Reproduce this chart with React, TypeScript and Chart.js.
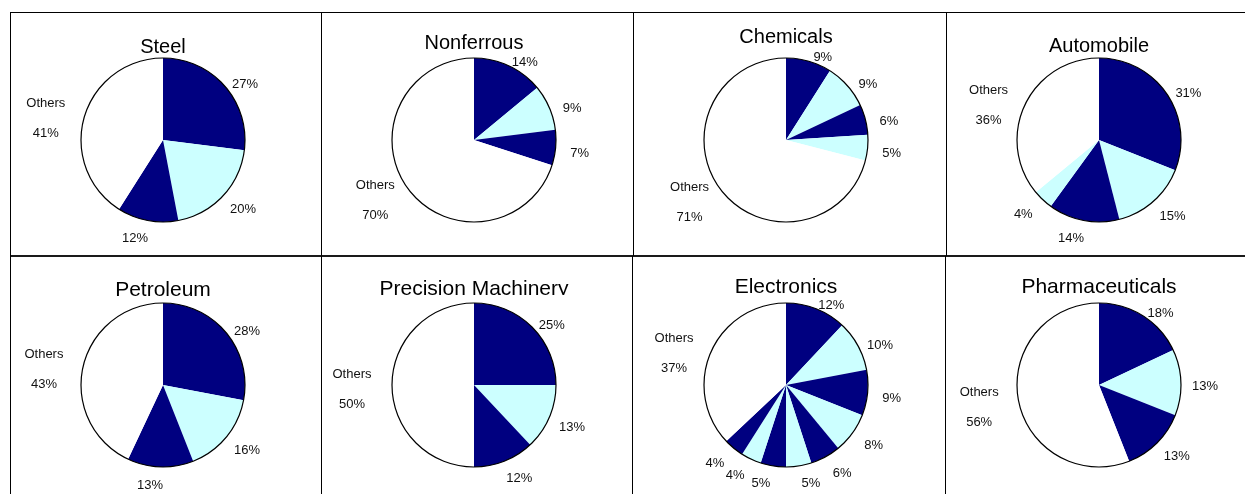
import React, { useEffect, useRef } from "react";
import { Chart, registerables } from "chart.js";

Chart.register(...registerables);

// ---------- data ----------
const SECTORS = [
  "Steel",
  "Nonferrous",
  "Chemicals",
  "Automobile",
  "Petroleum",
  "Precision Machinery",
  "Electronics",
  "Pharmaceuticals",
];
const steelShares = [27, 20, 12, 41];
const nonferrousShares = [14, 9, 7, 70];
const chemicalsShares = [9, 9, 6, 5, 71];
const automobileShares = [31, 15, 14, 4, 36];
const petroleumShares = [28, 16, 13, 43];
const precisionShares = [25, 13, 12, 50];
const electronicsShares = [12, 10, 9, 8, 6, 5, 5, 4, 4, 37];
const pharmaShares = [18, 13, 13, 56];
const SHARES = [
  steelShares,
  nonferrousShares,
  chemicalsShares,
  automobileShares,
  petroleumShares,
  precisionShares,
  electronicsShares,
  pharmaShares,
];
const OTHERS_LABEL = "Others";
const CLIPPED_TITLES = ["Precision Machinery"];

// ---------- layout / style ----------
const PAGE_W = 1245;
const PAGE_H = 494;
const COL_LEFT = [10, 321, 633, 946];
const ROW_TOP = [12, 256];
const PIE_CX = 153;
const PIE_CY = [128, 129];
const PIE_R = 82;
const TITLE_Y = [35, 31, 25, 34, 34, 33, 31, 31];
const NAVY = "#000080";
const CYAN = "#CCFFFF";
const FONT = '"Liberation Sans", Arial, Helvetica, sans-serif';

type PanelProps = {
  title: string;
  shares: number[];
  row: number;
  col: number;
  titleY: number;
};

function PiePanel({ title, shares, row, col, titleY }: PanelProps) {
  const ref = useRef<HTMLCanvasElement | null>(null);
  const left = COL_LEFT[col];
  const top = ROW_TOP[row];
  const W = (col < COL_LEFT.length - 1 ? COL_LEFT[col + 1] : PAGE_W) - left;
  const H = (row < ROW_TOP.length - 1 ? ROW_TOP[row + 1] : PAGE_H) - top;
  const cy = PIE_CY[row];

  useEffect(() => {
    if (!ref.current) return;
    const n = shares.length;
    const labels = shares.map((_, i) => (i === n - 1 ? OTHERS_LABEL : ""));
    const colors = shares.map((_, i) =>
      i === n - 1 ? "#FFFFFF" : i % 2 === 0 ? NAVY : CYAN
    );
    const titleSize = row === 0 ? 20 : 21;
    const clip = CLIPPED_TITLES.includes(title);

    const decor = {
      id: "panelDecor",
      afterDatasetsDraw(chart: any) {
        const ctx = chart.ctx as CanvasRenderingContext2D;
        const meta = chart.getDatasetMeta(0);
        const vals = chart.data.datasets[0].data as number[];
        const labs = chart.data.labels as string[];
        if (!meta.data.length) return;
        const first = meta.data[0].getProps(["x", "y", "outerRadius"], true);
        ctx.save();
        // pie outline
        ctx.beginPath();
        ctx.arc(first.x, first.y, first.outerRadius, 0, Math.PI * 2);
        ctx.lineWidth = 1.2;
        ctx.strokeStyle = "#000";
        ctx.stroke();
        // slice labels
        ctx.font = `13px ${FONT}`;
        ctx.fillStyle = "#111";
        ctx.textAlign = "center";
        ctx.textBaseline = "middle";
        meta.data.forEach((arc: any, i: number) => {
          const p = arc.getProps(
            ["x", "y", "startAngle", "endAngle", "outerRadius"],
            true
          );
          const mid = (p.startAngle + p.endAngle) / 2;
          const ux = Math.cos(mid);
          const uy = Math.sin(mid);
          const r = p.outerRadius;
          const pct = `${vals[i]}%`;
          const dy = uy * (r + (uy > 0 ? 14 : 8)) + 4;
          if (labs[i]) {
            const lx = p.x + ux * (r + 40);
            const ly = p.y + dy;
            ctx.fillText(labs[i], lx, ly - 15);
            ctx.fillText(pct, lx, ly + 15);
          } else {
            const lx = p.x + ux * (r + 14) + Math.sign(ux) * 10;
            const ly = p.y + dy;
            ctx.fillText(pct, lx, ly);
          }
        });
        ctx.restore();
      },
      afterDraw(chart: any) {
        const ctx = chart.ctx as CanvasRenderingContext2D;
        const area = chart.chartArea;
        const tx = (area.left + area.right) / 2;
        ctx.save();
        if (clip) {
          ctx.beginPath();
          ctx.rect(0, 0, chart.width, titleY + 6);
          ctx.clip();
        }
        ctx.font = `${titleSize}px ${FONT}`;
        ctx.fillStyle = "#000";
        ctx.textAlign = "center";
        ctx.textBaseline = "middle";
        ctx.fillText(title, tx, titleY);
        ctx.restore();
      },
    };

    const chart = new Chart(ref.current, {
      type: "pie",
      data: {
        labels,
        datasets: [
          {
            data: shares,
            backgroundColor: colors,
            borderWidth: 0,
            radius: PIE_R,
          } as any,
        ],
      },
      options: {
        animation: false,
        responsive: true,
        maintainAspectRatio: false,
        layout: {
          padding: {
            left: PIE_CX - 100,
            right: W - (PIE_CX + 100),
            top: cy - 100,
            bottom: H - (cy + 100),
          },
        },
        plugins: {
          legend: { display: false },
          tooltip: { enabled: false },
          title: { display: false },
        },
      },
      plugins: [decor],
    });
    return () => chart.destroy();
  }, [title, shares, row, col, W, H, cy, titleY]);

  return (
    <div
      style={{
        position: "absolute",
        left,
        top,
        width: W,
        height: H,
      }}
    >
      <canvas ref={ref} />
    </div>
  );
}

function Line({ x, y, w, h, c = "#000" }: { x: number; y: number; w: number; h: number; c?: string }) {
  return (
    <div
      style={{
        position: "absolute",
        left: x,
        top: y,
        width: w,
        height: h,
        background: c,
        zIndex: 2,
      }}
    />
  );
}

export default function App() {
  return (
    <div
      style={{
        position: "absolute",
        left: 0,
        top: 0,
        width: PAGE_W,
        height: PAGE_H,
        overflow: "hidden",
        background: "#fff",
      }}
    >
      {SECTORS.map((s, i) => (
        <PiePanel
          key={s}
          title={s}
          shares={SHARES[i]}
          row={Math.floor(i / 4)}
          col={i % 4}
          titleY={TITLE_Y[i]}
        />
      ))}
      <Line x={10} y={12} w={PAGE_W - 10} h={1} />
      <Line x={10} y={255} w={PAGE_W - 10} h={2} c="#1a1a1a" />
      <Line x={10} y={12} w={1} h={PAGE_H - 12} />
      <Line x={321} y={12} w={1} h={244} />
      <Line x={633} y={12} w={1} h={244} />
      <Line x={946} y={12} w={1} h={244} />
      <Line x={321} y={256} w={1} h={PAGE_H - 256} />
      <Line x={632} y={256} w={1} h={PAGE_H - 256} />
      <Line x={945} y={256} w={1} h={PAGE_H - 256} />
    </div>
  );
}
